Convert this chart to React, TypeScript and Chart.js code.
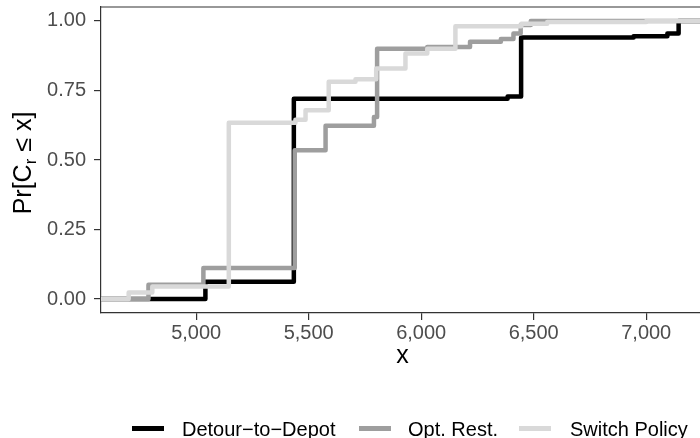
import React, { useEffect, useRef } from 'react';
import { Chart, registerables } from 'chart.js';

Chart.register(...registerables);

// Axis ranges and ticks
const X_MIN = 4577;
const X_MAX = 7239;
const Y_MIN = -0.05;
const Y_MAX = 1.05;
const X_TICKS = [5000, 5500, 6000, 6500, 7000];
const Y_TICKS = [0, 0.25, 0.5, 0.75, 1];

// Series
const SERIES_NAMES = ['Detour−to−Depot', 'Opt. Rest.', 'Switch Policy'];
const SERIES_COLORS = ['#000000', '#9E9E9E', '#D9D9D9'];

// ECDF steps (x = cost value where the step occurs, y = cumulative probability from there on)
const DETOUR_X = [X_MIN, 5041, 5434, 6384, 6444, 6944, 7094, 7144, X_MAX];
const DETOUR_Y = [0, 0.062, 0.72, 0.728, 0.94, 0.945, 0.955, 1.0, 1.0];

const OPT_X = [X_MIN, 4788, 5032, 5438, 5575, 5790, 5804, 6027, 6217, 6354, 6410, 6442, 6487, X_MAX];
const OPT_Y = [0, 0.052, 0.112, 0.535, 0.623, 0.655, 0.9, 0.906, 0.925, 0.935, 0.955, 0.985, 1.0, 1.0];

const SWITCH_X = [X_MIN, 4700, 4805, 5145, 5441, 5486, 5589, 5708, 5800, 5930, 6027, 6152, 6445, 6560, 7000, X_MAX];
const SWITCH_Y = [0, 0.024, 0.045, 0.634, 0.645, 0.679, 0.781, 0.79, 0.829, 0.883, 0.9, 0.981, 0.99, 0.996, 1.0, 1.0];

const FONT = '"Liberation Sans", Arial, Helvetica, sans-serif';

// legend layout (key left edge, text left edge)
const LEGEND_KEY_LEFT = [132, 359, 519];
const LEGEND_TEXT_LEFT = [182, 408, 570];

const toPoints = (xs: number[], ys: number[]) => xs.map((x, i) => ({ x, y: ys[i] }));

const framePlugin = {
  id: 'frameAndTitles',
  afterDraw(chart: any) {
    const { ctx, chartArea } = chart;
    ctx.save();
    // top panel border
    ctx.strokeStyle = '#333333';
    ctx.lineWidth = 1.2;
    ctx.beginPath();
    ctx.moveTo(chartArea.left, chartArea.top);
    ctx.lineTo(chartArea.right, chartArea.top);
    ctx.stroke();

    // x title
    ctx.fillStyle = '#000000';
    ctx.font = `25px ${FONT}`;
    ctx.textAlign = 'center';
    ctx.textBaseline = 'alphabetic';
    ctx.fillText('x', (chartArea.left + chartArea.right) / 2 + 2, 363);

    // y title with subscript: Pr[C_r ≤ x]
    const cy = (chartArea.top + chartArea.bottom) / 2 + 3;
    ctx.translate(31, cy);
    ctx.rotate(-Math.PI / 2);
    ctx.textAlign = 'left';
    const parts = [
      { t: 'Pr[C', f: `25px ${FONT}`, dy: 0 },
      { t: 'r', f: `17px ${FONT}`, dy: 5 },
      { t: ' ≤ x]', f: `25px ${FONT}`, dy: 0 },
    ];
    let total = 0;
    const widths = parts.map((p) => {
      ctx.font = p.f;
      const w = ctx.measureText(p.t).width;
      total += w;
      return w;
    });
    let x = -total / 2;
    parts.forEach((p, i) => {
      ctx.font = p.f;
      ctx.fillText(p.t, x, p.dy);
      x += widths[i];
    });
    ctx.restore();
  },
};

export default function App() {
  const ref = useRef<HTMLCanvasElement>(null);

  useEffect(() => {
    const canvas = ref.current;
    if (!canvas) return;
    const seriesData = [
      toPoints(DETOUR_X, DETOUR_Y),
      toPoints(OPT_X, OPT_Y),
      toPoints(SWITCH_X, SWITCH_Y),
    ];
    const chart = new Chart(canvas, {
      type: 'line',
      data: {
        datasets: seriesData.map((data, i) => ({
          label: SERIES_NAMES[i],
          data,
          borderColor: SERIES_COLORS[i],
          backgroundColor: SERIES_COLORS[i],
          borderWidth: 4.5,
          pointRadius: 0,
          pointHoverRadius: 0,
          stepped: 'before' as const,
          fill: false,
          tension: 0,
          clip: 0,
          borderJoinStyle: 'round' as const,
          borderCapStyle: 'butt' as const,
          order: 3 - i,
        })),
      },
      options: {
        responsive: false,
        maintainAspectRatio: false,
        animation: false,
        devicePixelRatio: 1,
        layout: { padding: { top: 7, left: 0, right: 0, bottom: 85 }, autoPadding: false },
        plugins: {
          legend: { display: false },
          tooltip: { enabled: false },
          title: { display: false },
        },
        scales: {
          x: {
            type: 'linear',
            min: X_MIN,
            max: X_MAX,
            afterBuildTicks: (s: any) => {
              s.ticks = X_TICKS.map((v) => ({ value: v }));
            },
            afterFit: (s: any) => {
              s.height = 40;
              s.paddingLeft = 0;
              s.paddingRight = 0;
            },
            grid: { drawOnChartArea: false, drawTicks: true, tickLength: 7, color: '#333333', lineWidth: 1.2 },
            border: { display: true, color: '#333333', width: 1.2 },
            ticks: {
              padding: 1.5,
              color: '#4D4D4D',
              font: { family: FONT, size: 20 },
              maxRotation: 0,
              autoSkip: false,
              callback: (v: any) => Number(v).toLocaleString('en-US'),
            },
            title: { display: false },
          },
          y: {
            type: 'linear',
            min: Y_MIN,
            max: Y_MAX,
            afterBuildTicks: (s: any) => {
              s.ticks = Y_TICKS.map((v) => ({ value: v }));
            },
            afterFit: (s: any) => {
              s.width = 101;
              s.paddingTop = 0;
              s.paddingBottom = 0;
            },
            grid: { drawOnChartArea: false, drawTicks: true, tickLength: 7, color: '#333333', lineWidth: 1.2 },
            border: { display: true, color: '#333333', width: 1.2 },
            ticks: {
              padding: 8,
              color: '#4D4D4D',
              font: { family: FONT, size: 20 },
              autoSkip: false,
              callback: (v: any) => Number(v).toFixed(2),
            },
            title: { display: false },
          },
        },
      },
      plugins: [framePlugin],
    } as any);
    return () => chart.destroy();
  }, []);

  return (
    <div
      style={{
        position: 'absolute',
        left: 0,
        top: 0,
        width: 700,
        height: 438,
        background: '#ffffff',
        overflow: 'hidden',
      }}
    >
      <canvas ref={ref} width={700} height={438} style={{ display: 'block', width: 700, height: 438 }} />
      {SERIES_NAMES.map((name, i) => (
        <React.Fragment key={name}>
          <span
            style={{
              position: 'absolute',
              left: LEGEND_KEY_LEFT[i],
              top: 426,
              width: 32,
              height: 5,
              background: SERIES_COLORS[i],
            }}
          />
          <span
            style={{
              position: 'absolute',
              left: LEGEND_TEXT_LEFT[i],
              top: 417,
              height: 24,
              lineHeight: '24px',
              fontFamily: FONT,
              fontSize: 20,
              color: '#000000',
              whiteSpace: 'nowrap',
            }}
          >
            {name}
          </span>
        </React.Fragment>
      ))}
    </div>
  );
}
